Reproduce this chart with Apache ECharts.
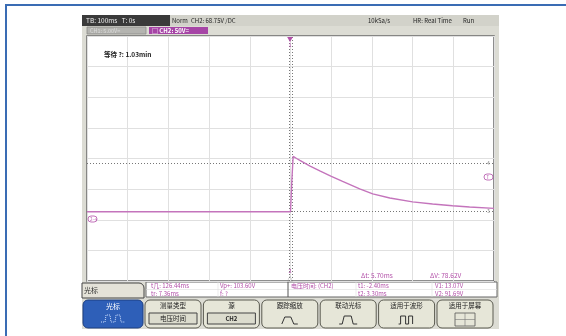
<!DOCTYPE html>
<html>
<head>
<meta charset="utf-8">
<script src="https://cdn.jsdelivr.net/npm/echarts@6/dist/echarts.min.js"></script>
<style>
  html, body { margin: 0; padding: 0; background: #fff; }
  #chart { width: 566px; height: 336px; }
</style>
</head>
<body>
<div id="chart"></div>
<script>
// 时间 (ms) / 电压 (V)，从截图上读出来的
const timeMs = [-500, -200, 0, 3, 6.5, 15, 23, 47, 72, 99, 128, 170, 202, 244, 300, 349, 398, 440, 500]
const volts = [13.1, 13.1, 13.1, 60, 103.6, 100, 96.9, 87.9, 79.7, 71.2, 62.6, 50.3, 42.2, 35.6, 29.1, 25.8, 22.9, 20.9, 18.5]

// 光标
const cursorT = [-2.4, 3.3]
const cursorV = [13.07, 91.69]

// 底部按钮
const btnLabels = ['测量类型', '源', '跟踪缩放', '联动光标', '适用于波形', '适用于屏幕']
const btnSubs = ['电压时间', 'CH2', '', '', '', '']

const FONT = '"Noto Sans CJK SC", "DejaVu Sans", sans-serif'
const PURPLE = '#b24fa8'

const chart = echarts.init(document.getElementById('chart'))

const txt = (x, y, text, color, size, weight, z) => ({
  type: 'text', x, y, z: z || 50,
  style: { text, fill: color, font: (weight || 'normal') + ' ' + (size || 7) + 'px ' + FONT, textVerticalAlign: 'middle' }
})

const graphics = [
  // 外框
  { type: 'rect', z: -30, shape: { x: 6, y: 5, width: 640, height: 400 }, style: { fill: '#fff', stroke: '#3a6cb4', lineWidth: 2 } },
  // 示波器屏幕底色
  { type: 'rect', z: -20, shape: { x: 82, y: 15, width: 417, height: 314 }, style: { fill: '#dcdcd4' } },
  { type: 'rect', z: -19, shape: { x: 82, y: 15, width: 417, height: 11 }, style: { fill: '#d2d2ca' } },
  { type: 'rect', z: -18, shape: { x: 82, y: 15, width: 88, height: 11 }, style: { fill: '#3a3a3a' } },
  txt(86, 20.5, 'TB: 100ms   T: 0s', '#f0f0f0', 6.5),
  txt(172, 20.5, 'Norm', '#222', 6),
  txt(191, 20.5, 'CH2: 68.75V /DC', '#222', 6),
  txt(368, 20.5, '10kSa/s', '#222', 6),
  txt(413, 20.5, 'HR: Real Time', '#222', 6),
  txt(463, 20.5, 'Run', '#222', 6),
  // 通道标签
  { type: 'rect', z: -15, shape: { x: 87, y: 27, width: 59, height: 7 }, style: { fill: '#b4b4b0', stroke: '#8c8c88', lineWidth: 0.8 } },
  txt(90, 30.5, 'CH1: 5.00V=', '#dadada', 5.5),
  { type: 'rect', z: -15, shape: { x: 149, y: 27, width: 59, height: 7 }, style: { fill: '#a645a6' } },
  txt(152, 30.5, '□ CH2: 50V=', '#fff', 6, 'bold'),
  // 屏幕内文字
  txt(104, 55, '等待 ?: 1.03min', '#222', 6.5, 'bold'),
  txt(361, 276, 'Δt: 5.70ms', PURPLE, 6.5),
  txt(430, 276, 'ΔV: 78.62V', PURPLE, 6.5),
  // 光标标记
  txt(287, 39, '▼', PURPLE, 6),
  txt(288.5, 45, '1', PURPLE, 5.5),
  txt(288.5, 271, '2', PURPLE, 5.5),
  txt(287, 279, '△', '#888', 6),
  txt(487, 163, '4', '#888', 5),
  txt(487, 211, '3', '#888', 5),
  { type: 'rect', z: 40, shape: { x: 484, y: 174, width: 9, height: 6, r: 3 }, style: { fill: '#fff', stroke: PURPLE, lineWidth: 0.8 } },
  txt(486.5, 177, 'T', PURPLE, 4.5),
  { type: 'rect', z: 40, shape: { x: 88, y: 216, width: 9, height: 6, r: 3 }, style: { fill: '#fff', stroke: PURPLE, lineWidth: 0.8 } },
  txt(90, 219, '2→', PURPLE, 4.5),
  // 测量区
  { type: 'rect', z: -10, shape: { x: 82, y: 283, width: 62, height: 15, r: [0, 5, 0, 0] }, style: { fill: '#e4e2d8', stroke: '#444', lineWidth: 1 } },
  txt(84, 290.5, '光标', '#333', 7),
  { type: 'rect', z: -10, shape: { x: 146, y: 282, width: 351, height: 15 }, style: { fill: '#fff', stroke: '#666', lineWidth: 1 } },
  { type: 'line', z: -9, shape: { x1: 146, y1: 289.5, x2: 497, y2: 289.5 }, style: { stroke: '#ddd', lineWidth: 0.6 } },
  { type: 'line', z: -9, shape: { x1: 218, y1: 282, x2: 218, y2: 297 }, style: { stroke: '#ddd', lineWidth: 0.6 } },
  { type: 'line', z: -9, shape: { x1: 288, y1: 282, x2: 288, y2: 297 }, style: { stroke: '#555', lineWidth: 1 } },
  { type: 'line', z: -9, shape: { x1: 356, y1: 282, x2: 356, y2: 297 }, style: { stroke: '#ddd', lineWidth: 0.6 } },
  { type: 'line', z: -9, shape: { x1: 432, y1: 282, x2: 432, y2: 297 }, style: { stroke: '#ddd', lineWidth: 0.6 } },
  txt(151, 286, 't几: 126.44ms', PURPLE, 6),
  txt(151, 293.5, 'tr: 7.36ms', PURPLE, 6),
  txt(220, 286, 'Vp+: 103.60V', PURPLE, 6),
  txt(220, 293.5, 'f: ?', PURPLE, 6),
  txt(291, 286, '电压时间: (CH2)', PURPLE, 6),
  txt(358, 286, 't1: -2.40ms', PURPLE, 6),
  txt(358, 293.5, 't2: 3.30ms', PURPLE, 6),
  txt(435, 286, 'V1: 13.07V', PURPLE, 6),
  txt(435, 293.5, 'V2: 91.69V', PURPLE, 6),
  // 按钮: 光标
  { type: 'rect', z: -8, shape: { x: 83, y: 300, width: 60, height: 28, r: 5 }, style: { fill: '#2e5fb8', stroke: '#1d3e80', lineWidth: 1 } },
  { type: 'text', z: 50, x: 113, y: 306, style: { text: '光标', fill: '#fff', font: '7px ' + FONT, textAlign: 'center', textVerticalAlign: 'middle' } },
  { type: 'polyline', z: 50, shape: { points: [[101, 322], [105, 322], [106, 315], [110, 315], [111, 322], [115, 322], [116, 315], [120, 315], [121, 322], [125, 322]] }, style: { stroke: '#cfe0ff', lineWidth: 1, lineDash: [1, 1], fill: null } }
]

// 其余按钮
btnLabels.forEach((label, i) => {
  const x = 145 + i * 58.4
  const cx = x + 28
  graphics.push({ type: 'rect', z: -8, shape: { x, y: 300, width: 56, height: 28, r: 5 }, style: { fill: '#e6e6d8', stroke: '#5a5a50', lineWidth: 1 } })
  graphics.push({ type: 'text', z: 50, x: cx, y: 306, style: { text: label, fill: '#222', font: '6.5px ' + FONT, textAlign: 'center', textVerticalAlign: 'middle' } })
  if (btnSubs[i]) {
    graphics.push({ type: 'rect', z: -7, shape: { x: x + 4, y: 313, width: 48, height: 11 }, style: { fill: '#dcdcce', stroke: '#444', lineWidth: 1 } })
    graphics.push({ type: 'text', z: 50, x: cx, y: 318.5, style: { text: btnSubs[i], fill: '#222', font: (i === 1 ? 'bold 6px ' : '6.5px ') + FONT, textAlign: 'center', textVerticalAlign: 'middle' } })
  } else {
    const icons = [
      [[cx - 8, 324], [cx - 5, 317], [cx + 1, 317], [cx + 4, 324], [cx + 8, 324]],
      [[cx - 9, 324], [cx - 6, 324], [cx - 4, 316], [cx + 3, 316], [cx + 5, 324], [cx + 9, 324]],
      [[cx - 8, 324], [cx - 6, 324], [cx - 6, 316], [cx - 1, 316], [cx - 1, 324], [cx + 2, 324], [cx + 2, 316], [cx + 6, 316], [cx + 6, 324]],
      null
    ]
    const pts = icons[i - 2]
    if (pts) {
      graphics.push({ type: 'polyline', z: 50, shape: { points: pts }, style: { stroke: '#333', lineWidth: 1, fill: null } })
    } else {
      graphics.push({ type: 'rect', z: 50, shape: { x: cx - 10, y: 313, width: 20, height: 13 }, style: { fill: 'none', stroke: '#555', lineWidth: 0.8 } })
      graphics.push({ type: 'line', z: 50, shape: { x1: cx - 10, y1: 319.5, x2: cx + 10, y2: 319.5 }, style: { stroke: '#777', lineWidth: 0.6 } })
      graphics.push({ type: 'line', z: 50, shape: { x1: cx, y1: 313, x2: cx, y2: 326 }, style: { stroke: '#777', lineWidth: 0.6 } })
    }
  }
})

const option = {
  animation: false,
  backgroundColor: '#fff',
  graphic: graphics,
  grid: {
    left: 87,
    top: 36,
    width: 407,
    height: 245,
    show: true,
    backgroundColor: '#fff',
    borderColor: '#6a6a6a',
    borderWidth: 1.5
  },
  xAxis: {
    type: 'value',
    min: -500,
    max: 500,
    interval: 100,
    axisLabel: { show: false },
    axisTick: { show: false },
    axisLine: { show: false },
    splitLine: { lineStyle: { color: '#e0e0e0', width: 1 } }
  },
  yAxis: {
    type: 'value',
    min: -100,
    max: 300,
    interval: 50,
    axisLabel: { show: false },
    axisTick: { show: false },
    axisLine: { show: false },
    splitLine: { lineStyle: { color: '#e0e0e0', width: 1 } }
  },
  series: [
    {
      name: 'CH2',
      type: 'line',
      data: timeMs.map((t, i) => [t, volts[i]]),
      symbol: 'none',
      smooth: false,
      z: 5,
      lineStyle: { color: '#c474bc', width: 1.4 },
      markLine: {
        silent: true,
        symbol: 'none',
        label: { show: false },
        lineStyle: { color: '#777', type: [1, 2], width: 1 },
        data: cursorT.map(t => ({ xAxis: t })).concat(cursorV.map(v => ({ yAxis: v })))
      }
    }
  ]
}

chart.setOption(option)
</script>
</body>
</html>
